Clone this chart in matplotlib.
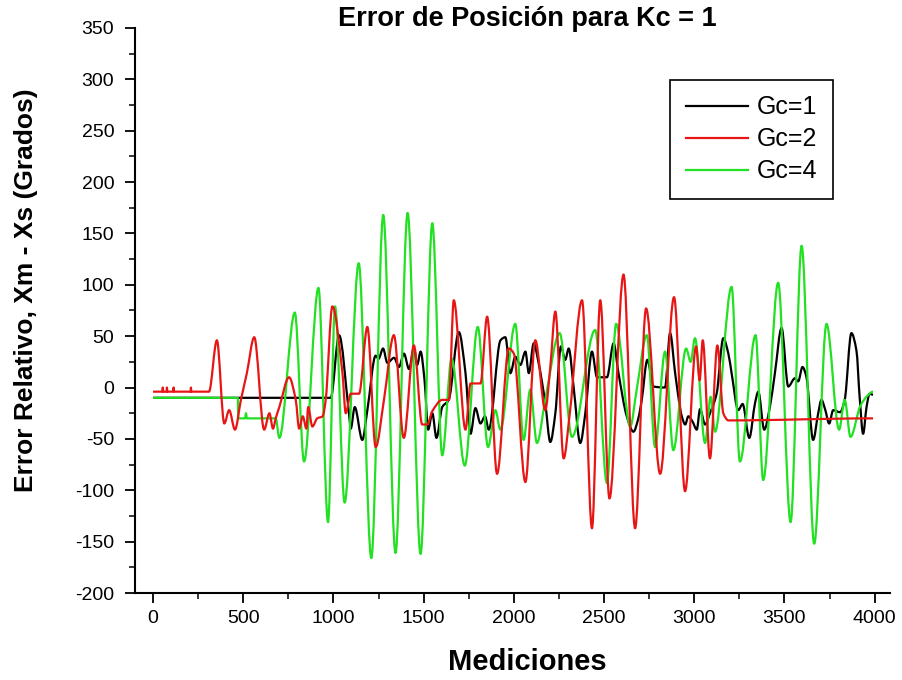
import numpy as np
import matplotlib
matplotlib.use('Agg')
import matplotlib.pyplot as plt
from matplotlib.ticker import MultipleLocator
from matplotlib.path import Path
from matplotlib.patches import PathPatch
from matplotlib.lines import Line2D

# Gc=1 (black)
gc1_x = [0, 985, 1031, 1086, 1096, 1118, 1160, 1188, 1234, 1250, 1275, 1299, 1336, 1363,
         1391, 1419, 1446, 1464, 1483, 1505, 1525, 1548, 1571, 1603, 1639, 1695, 1732,
         1760, 1787, 1815, 1840, 1861, 1926, 1953, 1981, 2008, 2036, 2064, 2083, 2110,
         2137, 2174, 2202, 2230, 2261, 2285, 2304, 2331, 2368, 2396, 2433, 2461, 2516,
         2553, 2580, 2626, 2663, 2690, 2709, 2740, 2774, 2838, 2866, 2894, 2931, 2950,
         2967, 2990, 3014, 3032, 3060, 3087, 3124, 3161, 3189, 3207, 3244, 3268, 3305,
         3337, 3355, 3388, 3419, 3447, 3484, 3521, 3558, 3576, 3600, 3622, 3659, 3687,
         3705, 3725, 3748, 3770, 3808, 3834, 3871, 3899, 3917, 3936, 3955, 3972, 3991]
gc1_y = [-10, -10, 51, -25, -40, -19, -51, -22, 31, 28, 38, 24, 29, 20,
         33, 18, 38, 22, 35, 7, -41, -25, -49, -19, -12, 54, 14,
         -45, -20, -35, -28, -41, 46, 49, 14, 30, 22, 35, 14, 43,
         24, -15, -53, -25, 40, 27, 38, 1, -54, -25, 35, 10, 10,
         43, 14, -28, -43, -30, -12, 27, 1, 0, 53, 14, -28, -36,
         -28, -33, -41, -21, -36, -25, -6, 48, 33, 14, -22, -16, -49,
         -15, -4, -41, -19, 14, 58, 1, 9, 6, 20, 10, -51, -25,
         -12, -21, -35, -22, -24, -12, 53, 36, -10, -45, -19, -6, -7]

# Gc=2 (red)
gc2_x = [0, 52, 54, 56, 75, 77, 79, 112, 114, 116, 208, 210, 212, 310, 354, 395, 422,
         454, 487, 520, 561, 616, 645, 665, 680, 700, 754, 791, 810, 830, 850, 860, 883,
         910, 940, 957, 994, 1050, 1068, 1096, 1142, 1188, 1234, 1280, 1335, 1390, 1446,
         1492, 1520, 1548, 1603, 1640, 1667, 1732, 1760, 1815, 1852, 1907, 1972, 2000,
         2064, 2119, 2174, 2202, 2230, 2276, 2310, 2378, 2433, 2479, 2530, 2608, 2672,
         2733, 2811, 2888, 2949, 3010, 3030, 3047, 3087, 3128, 3161, 3190, 3991]
gc2_y = [-4, -4, 0, -4, -4, 0, -4, -4, 0, -4, -4, 0, -4, -4, 46, -35, -22,
         -41, -12, 14, 49, -41, -25, -40, -30, -19, 10, -12, -40, -28, -40, -19, -38,
         -30, -28, -12, 79, 14, -25, -6, -6, 59, -58, -12, 51, -49, 41,
         -36, -36, -23, -12, -12, 85, -41, 4, 4, 69, -84, 38, 33,
         -92, 46, -22, 20, 74, -69, -25, 85, -137, 85, -108, 110, -137,
         77, -84, 88, -101, 40, 7, 46, -69, 41, -25, -32, -30]

# Gc=4 (green)
gc4_x = [0, 470, 472, 510, 515, 520, 680, 700, 786, 837, 917, 970, 1009, 1062, 1140,
         1210, 1276, 1344, 1411, 1483, 1548, 1603, 1655, 1728, 1800, 1857, 1898, 1925,
         2008, 2054, 2091, 2128, 2174, 2254, 2322, 2451, 2516, 2567, 2645, 2681, 2737,
         2783, 2838, 2884, 2955, 2980, 3004, 3060, 3091, 3115, 3207, 3253, 3340, 3382,
         3465, 3534, 3595, 3665, 3733, 3803, 3834, 3866, 3920, 3960, 3991]
gc4_y = [-10, -10, -30, -30, -25, -30, -30, -49, 73, -72, 97, -131, 79, -112, 121,
         -166, 168, -161, 170, -162, 160, -66, 28, -76, 59, -58, -22, -41,
         62, -51, -2, -54, -12, 53, -48, 56, -93, 62, -38, -2, 51,
         -58, 35, -61, 38, 25, 48, -54, -9, -43, 98, -72, 51, -90,
         102, -131, 138, -152, 62, -41, -12, -48, -18, -8, -4]

x_ticks = np.arange(0, 4001, 500)
y_ticks = np.arange(-200, 351, 50)

sans = ['Liberation Sans', 'DejaVu Sans']
plt.rcParams['font.family'] = sans
plt.rcParams['axes.unicode_minus'] = False


def smooth_path(xs, ys):
    # monotone cubic through the read points (flat tangent at each peak)
    xs = np.asarray(xs, float)
    ys = np.asarray(ys, float)
    s = np.diff(ys) / np.diff(xs)
    m = np.zeros(len(xs))
    for i in range(1, len(xs) - 1):
        if s[i - 1] * s[i] > 0:
            m[i] = 2.0 / (1.0 / s[i - 1] + 1.0 / s[i])
    verts = [(xs[0], ys[0])]
    codes = [Path.MOVETO]
    for i in range(len(xs) - 1):
        d = xs[i + 1] - xs[i]
        verts += [(xs[i] + d / 3, ys[i] + m[i] * d / 3),
                  (xs[i + 1] - d / 3, ys[i + 1] - m[i + 1] * d / 3),
                  (xs[i + 1], ys[i + 1])]
        codes += [Path.CURVE4] * 3
    return Path(verts, codes)


fig = plt.figure(figsize=(9.03, 6.8), dpi=100)
ax = fig.add_axes([135/903, 87/680, 755/903, 565/680])

series = [(gc1_x, gc1_y, 'black', 'Gc=1', 2),
          (gc2_x, gc2_y, '#e81515', 'Gc=2', 4),
          (gc4_x, gc4_y, '#22e022', 'Gc=4', 3)]
handles = []
for xs, ys, c, lab, z in series:
    ax.add_patch(PathPatch(smooth_path(xs, ys), fill=False, edgecolor=c, lw=1.6,
                           zorder=z, joinstyle='round'))
    handles.append(Line2D([], [], color=c, lw=1.6, label=lab))

ax.set_xlim(-100, 4085)
ax.set_ylim(-200, 350)
ax.set_xticks(x_ticks)
ax.set_yticks(y_ticks)
ax.xaxis.set_minor_locator(MultipleLocator(250))
ax.yaxis.set_minor_locator(MultipleLocator(25))
ax.spines['top'].set_visible(False)
ax.spines['right'].set_visible(False)
for s in ('left', 'bottom'):
    ax.spines[s].set_linewidth(1.5)
ax.tick_params(which='major', direction='out', length=7, width=1.3, labelsize=14)
ax.tick_params(axis='y', which='major', pad=8)
ax.tick_params(axis='x', which='major', pad=5)
ax.tick_params(which='minor', direction='out', length=4, width=1.1)

leg = ax.legend(handles=handles, loc='upper right', bbox_to_anchor=(0.9245, 0.908),
                borderaxespad=0, fancybox=False, framealpha=1, edgecolor='black',
                prop={'size': 18}, handlelength=2.5, handletextpad=0.35,
                labelspacing=0.32, borderpad=0.62)
leg.get_frame().set_linewidth(1.2)

fig.text(527/903, 1 - 19/680, 'Error de Posición para Kc = 1', ha='center', va='center',
         fontsize=19.5, fontweight='bold')
fig.text(527/903, 1 - 662/680, 'Mediciones', ha='center', va='center',
         fontsize=21, fontweight='bold')
fig.text(26/903, 1 - 290/680, 'Error Relativo, Xm - Xs (Grados)', ha='center', va='center',
         rotation=90, fontsize=19, fontweight='bold')

fig.savefig('out.png', dpi=100)
